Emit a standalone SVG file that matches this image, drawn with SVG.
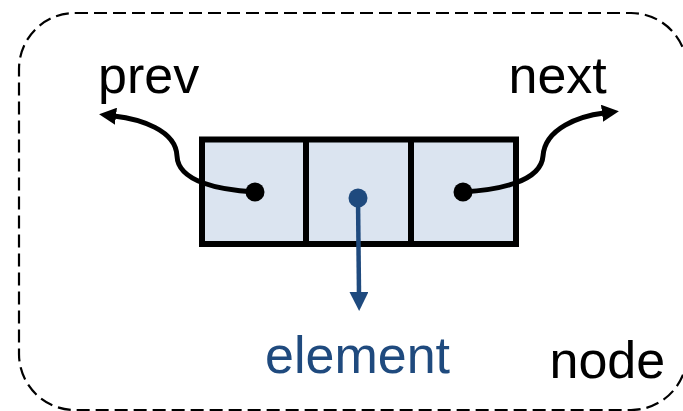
<svg xmlns="http://www.w3.org/2000/svg" width="683" height="411" viewBox="0 0 683 411">
  <style>
    .lbl { font-family: "Liberation Sans", Arial, sans-serif; font-size: 52px; }
    .dark { fill: #000000; }
    .blue { fill: #1f4a7e; }
    .cell { fill: #dbe4f0; stroke: #000000; stroke-width: 6; }
    .link { fill: none; stroke: #000000; stroke-width: 5; }
    .ref { fill: none; stroke: #1f4a7e; stroke-width: 4.5; }
  </style>
  <defs>
    <marker id="arrowBlack" viewBox="0 0 17 17" refX="2" refY="8.5" markerWidth="17" markerHeight="17" markerUnits="userSpaceOnUse" orient="auto">
      <path d="M0,0 L17,8.5 L0,17 Z" fill="#000000"/>
    </marker>
    <marker id="arrowBlue" viewBox="0 0 19 19" refX="2" refY="9.5" markerWidth="19" markerHeight="19" markerUnits="userSpaceOnUse" orient="auto">
      <path d="M0,0 L19,9.5 L0,19 Z" fill="#1f4a7e"/>
    </marker>
  </defs>

  <!-- dashed outline of the node -->
  <g id="node-frame">
    <rect x="19" y="13" width="668" height="397" rx="56" ry="56" fill="none" stroke="#000000" stroke-width="2.2" stroke-dasharray="13 6"/>
    <text class="lbl dark" x="549.5" y="378">node</text>
  </g>

  <!-- three-cell record -->
  <g id="cells">
    <rect class="cell" x="202" y="139.5" width="314" height="104.5"/>
    <line x1="306" y1="139.5" x2="306" y2="244" stroke="#000000" stroke-width="6"/>
    <line x1="411" y1="139.5" x2="411" y2="244" stroke="#000000" stroke-width="6"/>
  </g>

  <g id="labels">
    <text class="lbl dark" x="98" y="93">prev</text>
    <text class="lbl dark" x="508.5" y="93">next</text>
    <text class="lbl blue" x="265" y="373">element</text>
  </g>

  <!-- pointers out of each cell -->
  <g id="connectors">
    <path class="link" d="M255,192 C220,190 178,182 177,156 C176,130 140,119 114,116" marker-end="url(#arrowBlack)"/>
    <circle cx="255" cy="192" r="9.5" fill="#000000"/>
    <path class="link" d="M463,192 C498,190 541,182 543,156 C545,128 580,116 604,113" marker-end="url(#arrowBlack)"/>
    <circle cx="463" cy="192" r="9.5" fill="#000000"/>
    <path class="ref" d="M358,198 L359,294" marker-end="url(#arrowBlue)"/>
    <circle cx="358" cy="198" r="9.5" fill="#1f4a7e"/>
  </g>
</svg>
